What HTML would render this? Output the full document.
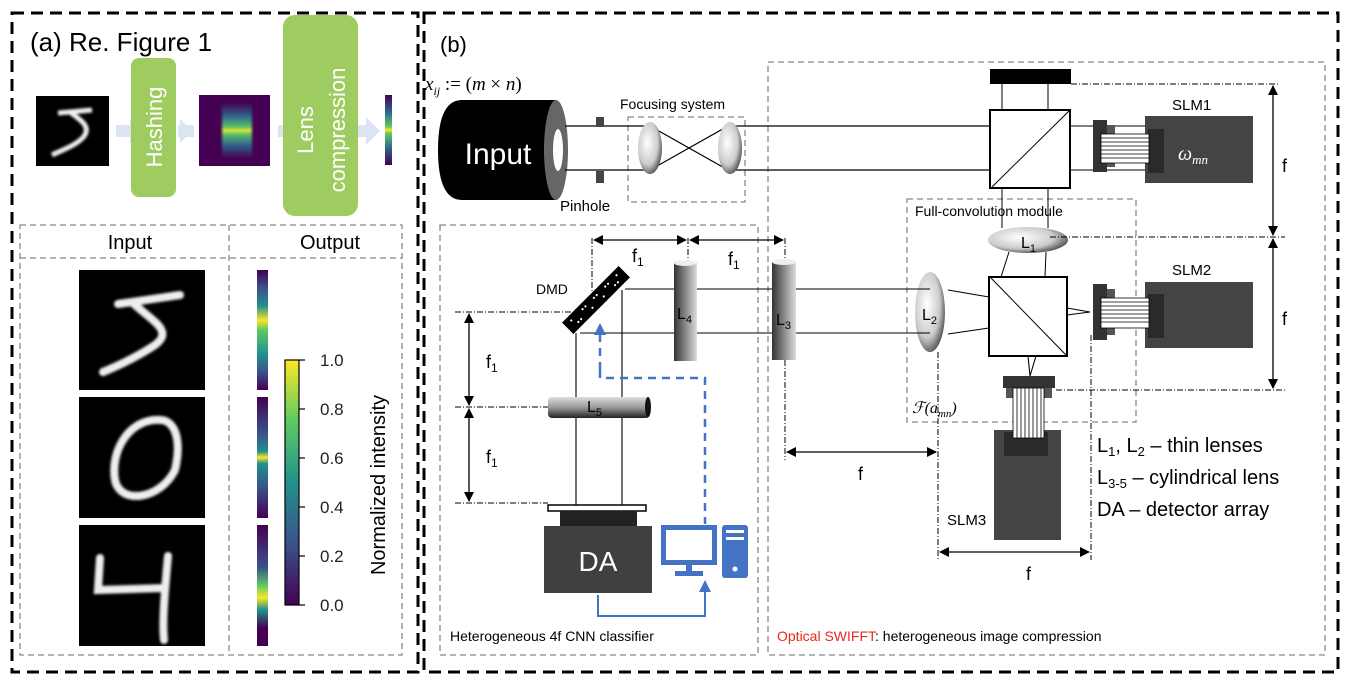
<!DOCTYPE html>
<html><head><meta charset="utf-8"><style>
html,body{margin:0;padding:0;background:#fff;}
svg{display:block;font-family:"Liberation Sans",sans-serif;}
</style></head><body>
<svg width="1346" height="686" viewBox="0 0 1346 686" xmlns="http://www.w3.org/2000/svg">
<defs>
<linearGradient id="vir" x1="0" y1="1" x2="0" y2="0">
<stop offset="0" stop-color="#440154"/><stop offset="0.25" stop-color="#3b528b"/><stop offset="0.5" stop-color="#21918c"/><stop offset="0.75" stop-color="#5ec962"/><stop offset="1" stop-color="#fde725"/></linearGradient>
<linearGradient id="bar1" x1="0" y1="0" x2="0" y2="1">
<stop offset="0" stop-color="#440154"/><stop offset="0.15" stop-color="#3b528b"/><stop offset="0.3" stop-color="#21918c"/><stop offset="0.42" stop-color="#fde725"/><stop offset="0.5" stop-color="#5ec962"/><stop offset="0.7" stop-color="#21918c"/><stop offset="0.85" stop-color="#3b528b"/><stop offset="1" stop-color="#440154"/></linearGradient>
<linearGradient id="bar2" x1="0" y1="0" x2="0" y2="1">
<stop offset="0" stop-color="#440154"/><stop offset="0.3" stop-color="#3b528b"/><stop offset="0.45" stop-color="#21918c"/><stop offset="0.5" stop-color="#fde725"/><stop offset="0.55" stop-color="#21918c"/><stop offset="0.75" stop-color="#3b528b"/><stop offset="1" stop-color="#440154"/></linearGradient>
<linearGradient id="bar3" x1="0" y1="0" x2="0" y2="1">
<stop offset="0" stop-color="#440154"/><stop offset="0.35" stop-color="#3b528b"/><stop offset="0.5" stop-color="#5ec962"/><stop offset="0.6" stop-color="#fde725"/><stop offset="0.7" stop-color="#21918c"/><stop offset="0.85" stop-color="#440154"/><stop offset="1" stop-color="#440154"/></linearGradient>
<linearGradient id="hash" x1="0" y1="0" x2="0" y2="1">
<stop offset="0" stop-color="#440154"/><stop offset="0.25" stop-color="#31688e"/><stop offset="0.45" stop-color="#5ec962"/><stop offset="0.5" stop-color="#fde725"/><stop offset="0.55" stop-color="#5ec962"/><stop offset="0.75" stop-color="#31688e"/><stop offset="1" stop-color="#440154"/></linearGradient>
<linearGradient id="cylv" x1="0" y1="0" x2="1" y2="0">
<stop offset="0" stop-color="#333"/><stop offset="0.6" stop-color="#999"/><stop offset="1" stop-color="#ddd"/></linearGradient>
<linearGradient id="cylh" x1="0" y1="0" x2="0" y2="1">
<stop offset="0" stop-color="#ddd"/><stop offset="0.5" stop-color="#999"/><stop offset="1" stop-color="#222"/></linearGradient>
<radialGradient id="lens" cx="0.4" cy="0.4" r="0.7">
<stop offset="0" stop-color="#fff"/><stop offset="0.6" stop-color="#ccc"/><stop offset="1" stop-color="#333"/></radialGradient>
<filter id="bl"><feGaussianBlur stdDeviation="1.2"/></filter>
<marker id="ah" markerWidth="10" markerHeight="10" refX="9" refY="5" orient="auto-start-reverse" markerUnits="userSpaceOnUse"><path d="M0,0 L10,5 L0,10 z" fill="#000"/></marker>
<marker id="ahb" markerWidth="12" markerHeight="12" refX="10" refY="6" orient="auto-start-reverse" markerUnits="userSpaceOnUse"><path d="M0,0 L12,6 L0,12 z" fill="#4472c4"/></marker>
</defs>

<!-- outer panels -->
<rect x="12" y="13" width="406" height="659" fill="none" stroke="#000" stroke-width="3" stroke-dasharray="12,7"/>
<rect x="424" y="13" width="914" height="659" fill="none" stroke="#000" stroke-width="3" stroke-dasharray="12,7"/>

<!-- (a) -->
<text x="30" y="51" font-size="26">(a) Re. Figure 1</text>
<g fill="#dbe4f2">
<rect x="116" y="125" width="14" height="12"/><path d="M130,119 L138,131 L130,143z"/>
<rect x="178" y="125" width="16" height="12"/><path d="M180,119 L192,131 L180,143z"/>
<rect x="278" y="125" width="6" height="12"/>
<rect x="358" y="125" width="14" height="12"/><path d="M366,117 L380,131 L366,145z"/>
</g>
<rect x="36" y="96" width="73" height="70" fill="#000"/>
<path d="M58,113 L92,110 M70,112 C80,120 90,125 85,135 C78,145 62,150 52,155" stroke="#eee" stroke-width="5" fill="none" filter="url(#bl)"/>
<rect x="131" y="58" width="45" height="139" rx="8" fill="#9fcc60"/>
<text transform="translate(162,127) rotate(-90)" text-anchor="middle" font-size="22" fill="#fff">Hashing</text>
<rect x="199" y="95" width="71" height="71" fill="#440154"/>
<rect x="222" y="103" width="30" height="55" fill="url(#hash)" filter="url(#bl)"/>
<rect x="283" y="15" width="75" height="201" rx="12" fill="#9fcc60"/>
<text transform="translate(313,130) rotate(-90)" text-anchor="middle" font-size="22" fill="#fff">Lens</text>
<text transform="translate(345,130) rotate(-90)" text-anchor="middle" font-size="22" fill="#fff">compression</text>
<rect x="385" y="95" width="7" height="70" fill="url(#hash)"/>

<g fill="none" stroke="#888" stroke-width="1.3" stroke-dasharray="6,4">
<rect x="20" y="225" width="382" height="430"/>
<line x1="20" y1="258" x2="402" y2="258"/>
<line x1="229" y1="225" x2="229" y2="655"/>
</g>
<text x="130" y="249" font-size="20" text-anchor="middle">Input</text>
<text x="330" y="249" font-size="20" text-anchor="middle">Output</text>
<rect x="79" y="270" width="126" height="120" fill="#000"/>
<rect x="79" y="397" width="126" height="121" fill="#000"/>
<rect x="79" y="525" width="126" height="121" fill="#000"/>
<g stroke="#eee" stroke-width="8" fill="none" stroke-linecap="round" filter="url(#bl)">
<path d="M118,304 L180,295 M132,302 C150,320 175,330 155,345 C140,355 120,365 103,372"/>
<path d="M160,420 C130,418 110,450 115,480 C120,505 160,500 175,470 C182,440 175,420 160,420"/>
<path d="M100,558 L98,590 L165,588 M168,556 C165,590 162,620 164,640"/>
</g>
<rect x="257" y="270" width="11" height="120" fill="url(#bar1)"/>
<rect x="257" y="397" width="11" height="121" fill="url(#bar2)"/>
<rect x="257" y="525" width="11" height="121" fill="url(#bar3)"/>
<rect x="285" y="360" width="14" height="245" fill="url(#vir)" stroke="#000" stroke-width="1.2"/>
<g stroke="#000" stroke-width="1.2"><line x1="299" y1="360" x2="305" y2="360"/><line x1="299" y1="409" x2="305" y2="409"/><line x1="299" y1="458" x2="305" y2="458"/><line x1="299" y1="507" x2="305" y2="507"/><line x1="299" y1="556" x2="305" y2="556"/><line x1="299" y1="605" x2="305" y2="605"/></g>
<g font-size="17" fill="#222"><text x="320" y="366">1.0</text><text x="320" y="415">0.8</text><text x="320" y="464">0.6</text><text x="320" y="513">0.4</text><text x="320" y="562">0.2</text><text x="320" y="611">0.0</text></g>
<text transform="translate(385,485) rotate(-90)" text-anchor="middle" font-size="20">Normalized intensity</text>

<!-- (b) -->
<text x="440" y="52" font-size="22">(b)</text>
<text x="425" y="90" font-size="19" font-family="Liberation Serif,serif" font-style="italic">x<tspan font-size="12" dy="5">ij</tspan><tspan dy="-5" font-style="normal"> := (</tspan>m<tspan font-style="normal"> × </tspan>n<tspan font-style="normal">)</tspan></text>
<g fill="none" stroke="#888" stroke-width="1.3" stroke-dasharray="6,4">
<rect x="768" y="62" width="557" height="593"/>
<rect x="440" y="225" width="318" height="430"/>
<rect x="628" y="117" width="117" height="85"/>
<rect x="907" y="199" width="229" height="223"/>
</g>
<!-- input -->
<path d="M462,100 L556,100 L556,200 L462,200 Q438,200 438,150 Q438,100 462,100z" fill="#000"/>
<ellipse cx="556" cy="150" rx="12" ry="50" fill="#666"/>
<ellipse cx="558" cy="150" rx="5" ry="21" fill="#fff"/>
<text x="498" y="164" font-size="30" fill="#fff" text-anchor="middle">Input</text>
<g stroke="#000" stroke-width="1.2" fill="none">
<line x1="565" y1="126" x2="650" y2="126"/><line x1="565" y1="170" x2="650" y2="170"/>
<line x1="650" y1="126" x2="728" y2="170"/><line x1="650" y1="170" x2="728" y2="126"/>
<line x1="735" y1="126" x2="990" y2="126"/><line x1="735" y1="170" x2="990" y2="170"/>
</g>
<rect x="596" y="117" width="8" height="10" fill="#444"/><rect x="596" y="171" width="8" height="12" fill="#444"/>
<ellipse cx="650" cy="148" rx="12" ry="26" fill="url(#lens)"/>
<ellipse cx="730" cy="148" rx="12" ry="26" fill="url(#lens)"/>
<text x="620" y="109" font-size="14">Focusing system</text>
<text x="560" y="211" font-size="15">Pinhole</text>

<!-- SWIFFT top -->
<rect x="990" y="69" width="81" height="15" fill="#000"/>
<line x1="1002" y1="84" x2="1002" y2="110" stroke="#000"/><line x1="1048" y1="84" x2="1048" y2="110" stroke="#000"/>
<rect x="990" y="110" width="80" height="78" fill="#fff" stroke="#000" stroke-width="2"/>
<line x1="992" y1="187" x2="1069" y2="111" stroke="#000"/>
<line x1="1070" y1="126" x2="1148" y2="126" stroke="#000"/><line x1="1070" y1="170" x2="1148" y2="170" stroke="#000"/>
<line x1="1002" y1="188" x2="1002" y2="228" stroke="#000"/><line x1="1048" y1="188" x2="1048" y2="228" stroke="#000"/>
<rect x="1145" y="116" width="108" height="67" fill="#444"/><rect x="1148" y="129" width="16" height="44" fill="#2a2a2a"/>
<rect x="1093" y="120" width="14" height="52" fill="#333"/><rect x="1107" y="125" width="8" height="42" fill="#555"/>
<g stroke="#000" stroke-width="0.8"><rect x="1101" y="134" width="48" height="29" fill="#fff"/>
<line x1="1101" y1="138" x2="1149" y2="138"/><line x1="1101" y1="142" x2="1149" y2="142"/><line x1="1101" y1="146" x2="1149" y2="146"/><line x1="1101" y1="150" x2="1149" y2="150"/><line x1="1101" y1="154" x2="1149" y2="154"/><line x1="1101" y1="158" x2="1149" y2="158"/></g>
<text x="1172" y="110" font-size="15">SLM1</text>
<text x="1178" y="160" font-size="20" fill="#fff" font-family="Liberation Serif,serif" font-style="italic">ω<tspan font-size="13" dy="4">mn</tspan></text>

<!-- L1 and cube2 -->
<ellipse cx="1028" cy="240" rx="40" ry="13" fill="url(#lens)"/>
<text x="1021" y="248" font-size="16">L<tspan font-size="11" dy="4">1</tspan></text>
<line x1="1009" y1="252" x2="1001" y2="277" stroke="#000"/><line x1="1046" y1="252" x2="1045" y2="277" stroke="#000"/>
<rect x="989" y="277" width="78" height="79" fill="#fff" stroke="#000" stroke-width="2"/>
<line x1="991" y1="278" x2="1066" y2="355" stroke="#000"/>
<ellipse cx="930" cy="312" rx="15" ry="40" fill="url(#lens)"/>
<text x="922" y="320" font-size="16">L<tspan font-size="11" dy="4">2</tspan></text>
<g stroke="#000" stroke-width="1.1">
<line x1="795" y1="289" x2="930" y2="289"/><line x1="795" y1="333" x2="930" y2="333"/>
<line x1="948" y1="290" x2="989" y2="297"/><line x1="948" y1="334" x2="989" y2="328"/>
<line x1="1067" y1="308" x2="1090" y2="312"/><line x1="1067" y1="315" x2="1090" y2="312"/>
<line x1="1028" y1="356" x2="1030" y2="376"/><line x1="1036" y1="356" x2="1030" y2="376"/>
</g>
<rect x="1145" y="282" width="108" height="66" fill="#444"/><rect x="1148" y="294" width="16" height="44" fill="#2a2a2a"/>
<rect x="1093" y="284" width="14" height="56" fill="#333"/><rect x="1107" y="289" width="8" height="46" fill="#555"/>
<g stroke="#000" stroke-width="0.8"><rect x="1101" y="298" width="48" height="30" fill="#fff"/>
<line x1="1101" y1="302" x2="1149" y2="302"/><line x1="1101" y1="306" x2="1149" y2="306"/><line x1="1101" y1="310" x2="1149" y2="310"/><line x1="1101" y1="314" x2="1149" y2="314"/><line x1="1101" y1="318" x2="1149" y2="318"/><line x1="1101" y1="322" x2="1149" y2="322"/></g>
<text x="1172" y="275" font-size="15">SLM2</text>
<text x="915" y="216" font-size="14">Full-convolution module</text>
<text x="912" y="413" font-size="16" font-family="Liberation Serif,serif" font-style="italic">ℱ(a<tspan font-size="11" dy="4">mn</tspan><tspan dy="-4">)</tspan></text>
<!-- SLM3 -->
<rect x="1003" y="376" width="52" height="12" fill="#333"/><rect x="1006" y="388" width="46" height="10" fill="#555"/>
<rect x="994" y="430" width="67" height="110" fill="#444"/><rect x="1004" y="432" width="44" height="24" fill="#2a2a2a"/>
<g stroke="#000" stroke-width="0.8"><rect x="1013" y="388" width="31" height="50" fill="#fff"/>
<line x1="1017" y1="388" x2="1017" y2="438"/><line x1="1021" y1="388" x2="1021" y2="438"/><line x1="1025" y1="388" x2="1025" y2="438"/><line x1="1029" y1="388" x2="1029" y2="438"/><line x1="1033" y1="388" x2="1033" y2="438"/><line x1="1037" y1="388" x2="1037" y2="438"/><line x1="1041" y1="388" x2="1041" y2="438"/></g>
<text x="947" y="525" font-size="15">SLM3</text>

<!-- dimension lines right -->
<g stroke="#000" stroke-width="1" stroke-dasharray="6,2,1,2" fill="none">
<line x1="1071" y1="84" x2="1280" y2="84"/><line x1="1050" y1="237" x2="1285" y2="237"/><line x1="1056" y1="390" x2="1285" y2="390"/>
<line x1="938" y1="352" x2="938" y2="560"/><line x1="1091" y1="335" x2="1091" y2="560"/>
<line x1="785" y1="360" x2="785" y2="460"/>
</g>
<g stroke="#000" stroke-width="1.3">
<line x1="1273" y1="86" x2="1273" y2="235" marker-start="url(#ah)" marker-end="url(#ah)"/>
<line x1="1273" y1="239" x2="1273" y2="388" marker-start="url(#ah)" marker-end="url(#ah)"/>
<line x1="787" y1="452" x2="936" y2="452" marker-start="url(#ah)" marker-end="url(#ah)"/>
<line x1="940" y1="552" x2="1089" y2="552" marker-start="url(#ah)" marker-end="url(#ah)"/>
</g>
<g font-size="18"><text x="1282" y="172">f</text><text x="1282" y="325">f</text><text x="858" y="480">f</text><text x="1026" y="580">f</text></g>
<g font-size="20"><text x="1097" y="452">L<tspan font-size="13" dy="4">1</tspan><tspan dy="-4">, L</tspan><tspan font-size="13" dy="4">2</tspan><tspan dy="-4"> – thin lenses</tspan></text>
<text x="1097" y="484">L<tspan font-size="13" dy="4">3-5</tspan><tspan dy="-4"> – cylindrical lens</tspan></text>
<text x="1097" y="516">DA – detector array</text></g>
<text x="777" y="641" font-size="14"><tspan fill="#e8291c">Optical SWIFFT</tspan>: heterogeneous image compression</text>

<!-- 4f -->
<g stroke="#000" stroke-width="1.1">
<line x1="625" y1="289" x2="675" y2="289"/><line x1="696" y1="289" x2="773" y2="289"/>
<line x1="580" y1="333" x2="675" y2="333"/><line x1="696" y1="333" x2="773" y2="333"/>
<line x1="576" y1="333" x2="576" y2="505"/><line x1="622" y1="290" x2="622" y2="505"/>
</g>
<g stroke="#000" stroke-width="1" stroke-dasharray="6,2,1,2" fill="none">
<line x1="592" y1="238" x2="592" y2="300"/><line x1="688" y1="238" x2="688" y2="268"/><line x1="785" y1="238" x2="785" y2="262"/>
<line x1="455" y1="312" x2="580" y2="312"/><line x1="455" y1="407" x2="550" y2="407"/><line x1="455" y1="503" x2="548" y2="503"/>
</g>
<g stroke="#000" stroke-width="1.3">
<line x1="594" y1="240" x2="686" y2="240" marker-start="url(#ah)" marker-end="url(#ah)"/>
<line x1="690" y1="240" x2="783" y2="240" marker-start="url(#ah)" marker-end="url(#ah)"/>
<line x1="469" y1="314" x2="469" y2="405" marker-start="url(#ah)" marker-end="url(#ah)"/>
<line x1="469" y1="409" x2="469" y2="501" marker-start="url(#ah)" marker-end="url(#ah)"/>
</g>
<g font-size="18"><text x="632" y="262">f<tspan font-size="12" dy="4">1</tspan></text><text x="728" y="265">f<tspan font-size="12" dy="4">1</tspan></text>
<text x="486" y="368">f<tspan font-size="12" dy="4">1</tspan></text><text x="486" y="463">f<tspan font-size="12" dy="4">1</tspan></text></g>
<g transform="translate(596,300) rotate(-45)">
<rect x="-40" y="-8" width="80" height="16" fill="#000"/>
<g fill="#fff"><circle cx="-32" cy="-3" r="1.1"/><circle cx="-24" cy="3" r="1.1"/><circle cx="-16" cy="-3" r="1.1"/><circle cx="-8" cy="3" r="1.1"/><circle cx="0" cy="-3" r="1.1"/><circle cx="8" cy="3" r="1.1"/><circle cx="16" cy="-3" r="1.1"/><circle cx="24" cy="3" r="1.1"/><circle cx="32" cy="-3" r="1.1"/><circle cx="-28" cy="3" r="1.1"/><circle cx="-12" cy="-3" r="1.1"/><circle cx="4" cy="-3" r="1.1"/><circle cx="20" cy="-3" r="1.1"/><circle cx="28" cy="3" r="1.1"/></g>
</g>
<text x="536" y="294" font-size="14">DMD</text>
<rect x="674" y="263" width="23" height="98" fill="url(#cylv)"/><ellipse cx="685" cy="263" rx="11" ry="3" fill="#eee"/>
<text x="677" y="319" font-size="16">L<tspan font-size="11" dy="4">4</tspan></text>
<rect x="772" y="262" width="24" height="98" fill="url(#cylv)"/><ellipse cx="784" cy="262" rx="12" ry="3" fill="#eee"/>
<text x="776" y="325" font-size="16">L<tspan font-size="11" dy="4">3</tspan></text>
<rect x="548" y="397" width="102" height="21" rx="4" fill="url(#cylh)"/><ellipse cx="648" cy="407" rx="3" ry="10" fill="#111"/>
<text x="587" y="412" font-size="16">L<tspan font-size="11" dy="4">5</tspan></text>
<rect x="548" y="505" width="98" height="6" fill="#fff" stroke="#000" stroke-width="1.5"/>
<rect x="560" y="511" width="77" height="17" fill="#222"/>
<rect x="544" y="526" width="108" height="67" fill="#404040"/>
<text x="598" y="571" font-size="28" fill="#fff" text-anchor="middle">DA</text>
<!-- computer -->
<g fill="#4472c4">
<path d="M661,525 h56 v40 h-56z M666,530 v30 h46 v-30z" fill-rule="evenodd"/>
<rect x="686" y="565" width="6" height="7"/><rect x="675" y="571" width="28" height="5"/>
<rect x="722" y="525" width="26" height="53" rx="3"/>
</g>
<rect x="726" y="530" width="18" height="3" fill="#fff"/><rect x="726" y="537" width="18" height="3" fill="#fff"/><circle cx="735" cy="569" r="2.5" fill="#fff"/>
<path d="M600,370 L600,378 L705,378 L705,524" fill="none" stroke="#4472c4" stroke-width="2.5" stroke-dasharray="8,6"/>
<line x1="600" y1="370" x2="600" y2="325" stroke="#4472c4" stroke-width="2.5" stroke-dasharray="8,6" marker-end="url(#ahb)"/>
<path d="M598,595 L598,616 L705,616 L705,582" fill="none" stroke="#4472c4" stroke-width="2" marker-end="url(#ahb)"/>
<text x="450" y="641" font-size="14">Heterogeneous 4f CNN classifier</text>
</svg>
</body></html>
